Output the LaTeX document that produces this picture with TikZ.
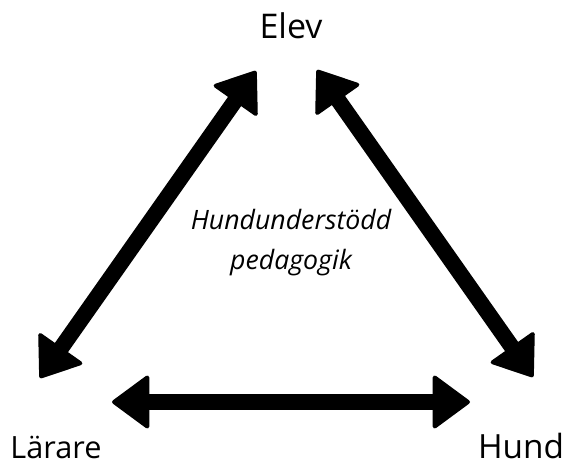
\documentclass[tikz,border=0pt]{standalone}
\usepackage{fontspec}
\setmainfont{Open Sans}
\usetikzlibrary{arrows.meta}

\tikzset{every picture/.style={line width=0.75pt}}
\tikzset{
  bigarrow/.style={line width=12pt, {Triangle[length=29pt,width=42pt,round,line width=3pt]}-{Triangle[length=29pt,width=42pt,round,line width=3pt]}},
  cornerlabel/.style={anchor=base, inner sep=0.75pt}
}

\begin{document}
\begin{tikzpicture}[x=0.75pt,y=0.75pt,yscale=-1,xscale=1]
		\useasboundingbox (0,0) rectangle (569,464); %picture size 569 x 464
		
		%Arrow ends
		\coordinate (elevL) at (256,71);
		\coordinate (elevR) at (317,70);
		\coordinate (lararU) at (40,378);
		\coordinate (hundU) at (533,377);
		\coordinate (lararR) at (112,402);
		\coordinate (hundL) at (470,402);
		
		%Arrows
		\draw [bigarrow] (lararU) -- (elevL) ;
		\draw [bigarrow] (elevR) -- (hundU) ;
		\draw [bigarrow] (lararR) -- (hundL) ;
		
		\node (elev) [cornerlabel, font=\fontsize{25.5pt}{30pt}\selectfont] at (291,38) {Elev};
		\node (larare) [cornerlabel, font=\fontsize{23pt}{28pt}\selectfont] at (56,458) {Lärare};
		\node (hund) [cornerlabel, font=\fontsize{25pt}{30pt}\selectfont] at (521,458) {Hund};
		\node (hup) [cornerlabel, align=center, font=\fontsize{20pt}{30pt}\selectfont\itshape] at (291,269) {Hundunderstödd\\pedagogik};
		
		
	\end{tikzpicture}
\end{document}
